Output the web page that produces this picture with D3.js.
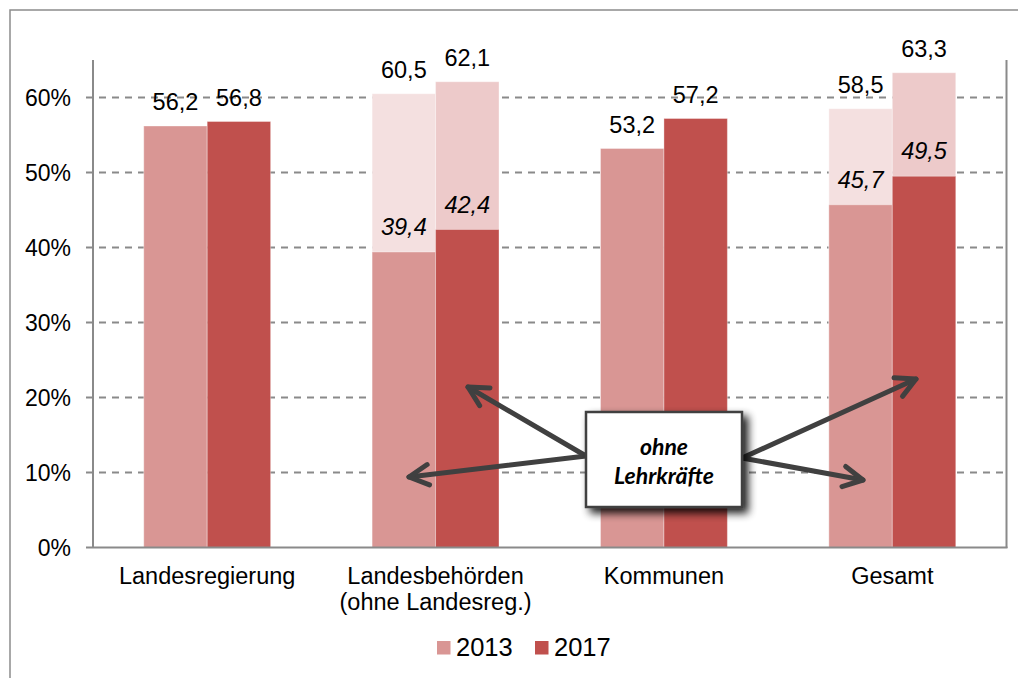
<!DOCTYPE html>
<html>
<head>
<meta charset="utf-8">
<script src="https://cdn.jsdelivr.net/npm/d3@7"></script>
<style>
  body { margin: 0; background: #fff; }
  svg text { font-family: "Liberation Sans", Arial, sans-serif; fill: #000; }
</style>
</head>
<body>
<div class="canvas"></div>
<script>
const categories = ['Landesregierung', 'Landesbehörden|(ohne Landesreg.)', 'Kommunen', 'Gesamt'];
const years = ['2013', '2017'];
const total2013 = [56.2, 60.5, 53.2, 58.5];
const total2017 = [56.8, 62.1, 57.2, 63.3];
// share without teachers (only where reported)
const ohne2013 = [null, 39.4, null, 45.7];
const ohne2017 = [null, 42.4, null, 49.5];
const yTicks = [0, 10, 20, 30, 40, 50, 60];

const colors = { '2013': '#d99694', '2017': '#c0504d' };
const lightColors = { '2013': '#f4e0e0', '2017': '#edcaca' };

const fmt = v => String(v).replace('.', ',');

const svg = d3.select('.canvas')
  .append('svg')
  .attr('width', 1018)
  .attr('height', 678);

// outer frame
svg.append('rect')
  .attr('x', 10).attr('y', 10)
  .attr('width', 1030).attr('height', 700)
  .attr('fill', 'none')
  .attr('stroke', '#8c8c8c')
  .attr('stroke-width', 1.5);

const x0 = d3.scaleBand()
  .domain(categories)
  .range([93, 1006.5]);

const x1 = d3.scaleBand()
  .domain(years)
  .range([0, x0.bandwidth()])
  .paddingOuter(0.8);

const y = d3.scaleLinear()
  .domain([0, 65])
  .range([547.5, 60]);

// gridlines
svg.append('g')
  .selectAll('line')
  .data(yTicks.filter(d => d > 0))
  .join('line')
  .attr('x1', 86).attr('x2', 1006)
  .attr('y1', d => y(d)).attr('y2', d => y(d))
  .attr('stroke', '#8a8a8a')
  .attr('stroke-width', 2)
  .attr('stroke-dasharray', '7,6');

// rows of bars
const rows = categories.map((c, i) => ({
  cat: c,
  vals: [
    { year: '2013', total: total2013[i], ohne: ohne2013[i] },
    { year: '2017', total: total2017[i], ohne: ohne2017[i] }
  ]
}));

const groups = svg.append('g')
  .selectAll('g')
  .data(rows)
  .join('g')
  .attr('transform', d => `translate(${x0(d.cat)},0)`);

// full / upper part
groups.selectAll('rect.total')
  .data(d => d.vals)
  .join('rect')
  .attr('class', 'total')
  .attr('x', d => x1(d.year))
  .attr('width', x1.bandwidth())
  .attr('y', d => y(d.total))
  .attr('height', d => y(0) - y(d.total))
  .attr('fill', d => d.ohne == null ? colors[d.year] : lightColors[d.year])
  .attr('stroke', 'rgba(255,255,255,0.35)')
  .attr('stroke-width', 1);

// lower part: without teachers
groups.selectAll('rect.ohne')
  .data(d => d.vals.filter(v => v.ohne != null))
  .join('rect')
  .attr('class', 'ohne')
  .attr('x', d => x1(d.year))
  .attr('width', x1.bandwidth())
  .attr('y', d => y(d.ohne))
  .attr('height', d => y(0) - y(d.ohne))
  .attr('fill', d => colors[d.year])
  .attr('stroke', 'rgba(255,255,255,0.35)')
  .attr('stroke-width', 1);

// value labels
groups.selectAll('text.total')
  .data(d => d.vals)
  .join('text')
  .attr('class', 'total')
  .attr('x', d => x1(d.year) + x1.bandwidth() / 2)
  .attr('y', d => y(d.total) - 16)
  .attr('text-anchor', 'middle')
  .style('font-size', '23.5px')
  .text(d => fmt(d.total));

groups.selectAll('text.ohne')
  .data(d => d.vals.filter(v => v.ohne != null))
  .join('text')
  .attr('class', 'ohne')
  .attr('x', d => x1(d.year) + x1.bandwidth() / 2)
  .attr('y', d => y(d.ohne) - 17)
  .attr('text-anchor', 'middle')
  .style('font-size', '23.5px')
  .style('font-style', 'italic')
  .text(d => fmt(d.ohne));

// axes lines
svg.append('line')
  .attr('x1', 93).attr('x2', 93)
  .attr('y1', 60).attr('y2', 548)
  .attr('stroke', '#8a8a8a').attr('stroke-width', 2);
svg.append('line')
  .attr('x1', 1006.5).attr('x2', 1006.5)
  .attr('y1', 60).attr('y2', 548)
  .attr('stroke', '#8a8a8a').attr('stroke-width', 2);
svg.append('line')
  .attr('x1', 86).attr('x2', 1007.5)
  .attr('y1', y(0)).attr('y2', y(0))
  .attr('stroke', '#8a8a8a').attr('stroke-width', 2);

// y tick labels
svg.append('g')
  .selectAll('text')
  .data(yTicks)
  .join('text')
  .attr('x', 71)
  .attr('y', d => y(d))
  .attr('dy', '0.35em')
  .attr('text-anchor', 'end')
  .style('font-size', '23px')
  .text(d => d + '%');

// category labels
const catLabels = svg.append('g')
  .selectAll('text')
  .data(categories)
  .join('text')
  .attr('x', d => x0(d) + x0.bandwidth() / 2)
  .attr('y', 584)
  .attr('text-anchor', 'middle')
  .style('font-size', '23.5px');
catLabels.selectAll('tspan')
  .data(d => d.split('|'))
  .join('tspan')
  .attr('x', function () { return d3.select(this.parentNode).attr('x'); })
  .attr('dy', (d, i) => i === 0 ? 0 : 26)
  .text(d => d);

// legend
const legend = svg.append('g')
  .selectAll('g')
  .data(years)
  .join('g')
  .attr('transform', (d, i) => `translate(${437 + i * 98},641)`);
legend.append('rect')
  .attr('width', 13.5).attr('height', 13.5)
  .attr('fill', d => colors[d]);
legend.append('text')
  .attr('x', 19)
  .attr('y', 14.5)
  .style('font-size', '25.5px')
  .text(d => d);

// annotation arrows
const arrows = [
  [[586, 456], [409, 477]],
  [[586, 456], [468, 387]],
  [[742, 458], [916, 379]],
  [[742, 458], [863, 480]]
];
const ann = svg.append('g')
  .attr('stroke', '#404040')
  .attr('stroke-width', 5)
  .attr('stroke-linecap', 'round')
  .attr('stroke-linejoin', 'round')
  .attr('fill', 'none');
arrows.forEach(([a, b]) => {
  const ang = Math.atan2(b[1] - a[1], b[0] - a[0]);
  const len = 22, spread = Math.PI / 6.5;
  const p1 = [b[0] - len * Math.cos(ang - spread), b[1] - len * Math.sin(ang - spread)];
  const p2 = [b[0] - len * Math.cos(ang + spread), b[1] - len * Math.sin(ang + spread)];
  ann.append('path').attr('d', d3.line()([a, b]));
  ann.append('path').attr('d', d3.line()([p1, b, p2]));
});

// callout box with shadow
const defs = svg.append('defs');
const f = defs.append('filter').attr('id', 'shadow')
  .attr('x', '-20%').attr('y', '-20%').attr('width', '150%').attr('height', '150%');
f.append('feGaussianBlur').attr('in', 'SourceAlpha').attr('stdDeviation', 4);
f.append('feOffset').attr('dx', 5).attr('dy', 5).attr('result', 'blur');
f.append('feComponentTransfer').append('feFuncA').attr('type', 'linear').attr('slope', 0.9);
const m = f.append('feMerge');
m.append('feMergeNode');
m.append('feMergeNode').attr('in', 'SourceGraphic');

svg.append('rect')
  .attr('x', 586).attr('y', 412)
  .attr('width', 156).attr('height', 95)
  .attr('fill', '#fff')
  .attr('stroke', '#404040')
  .attr('stroke-width', 2.5)
  .attr('filter', 'url(#shadow)');

svg.append('g')
  .selectAll('text')
  .data(['ohne', 'Lehrkräfte'])
  .join('text')
  .attr('x', 664)
  .attr('y', (d, i) => 455 + i * 29)
  .attr('text-anchor', 'middle')
  .style('font-family', 'Lato, "Open Sans", sans-serif')
  .style('font-weight', 'bold')
  .style('font-style', 'italic')
  .style('font-size', '23px')
  .text(d => d);
</script>
</body>
</html>
